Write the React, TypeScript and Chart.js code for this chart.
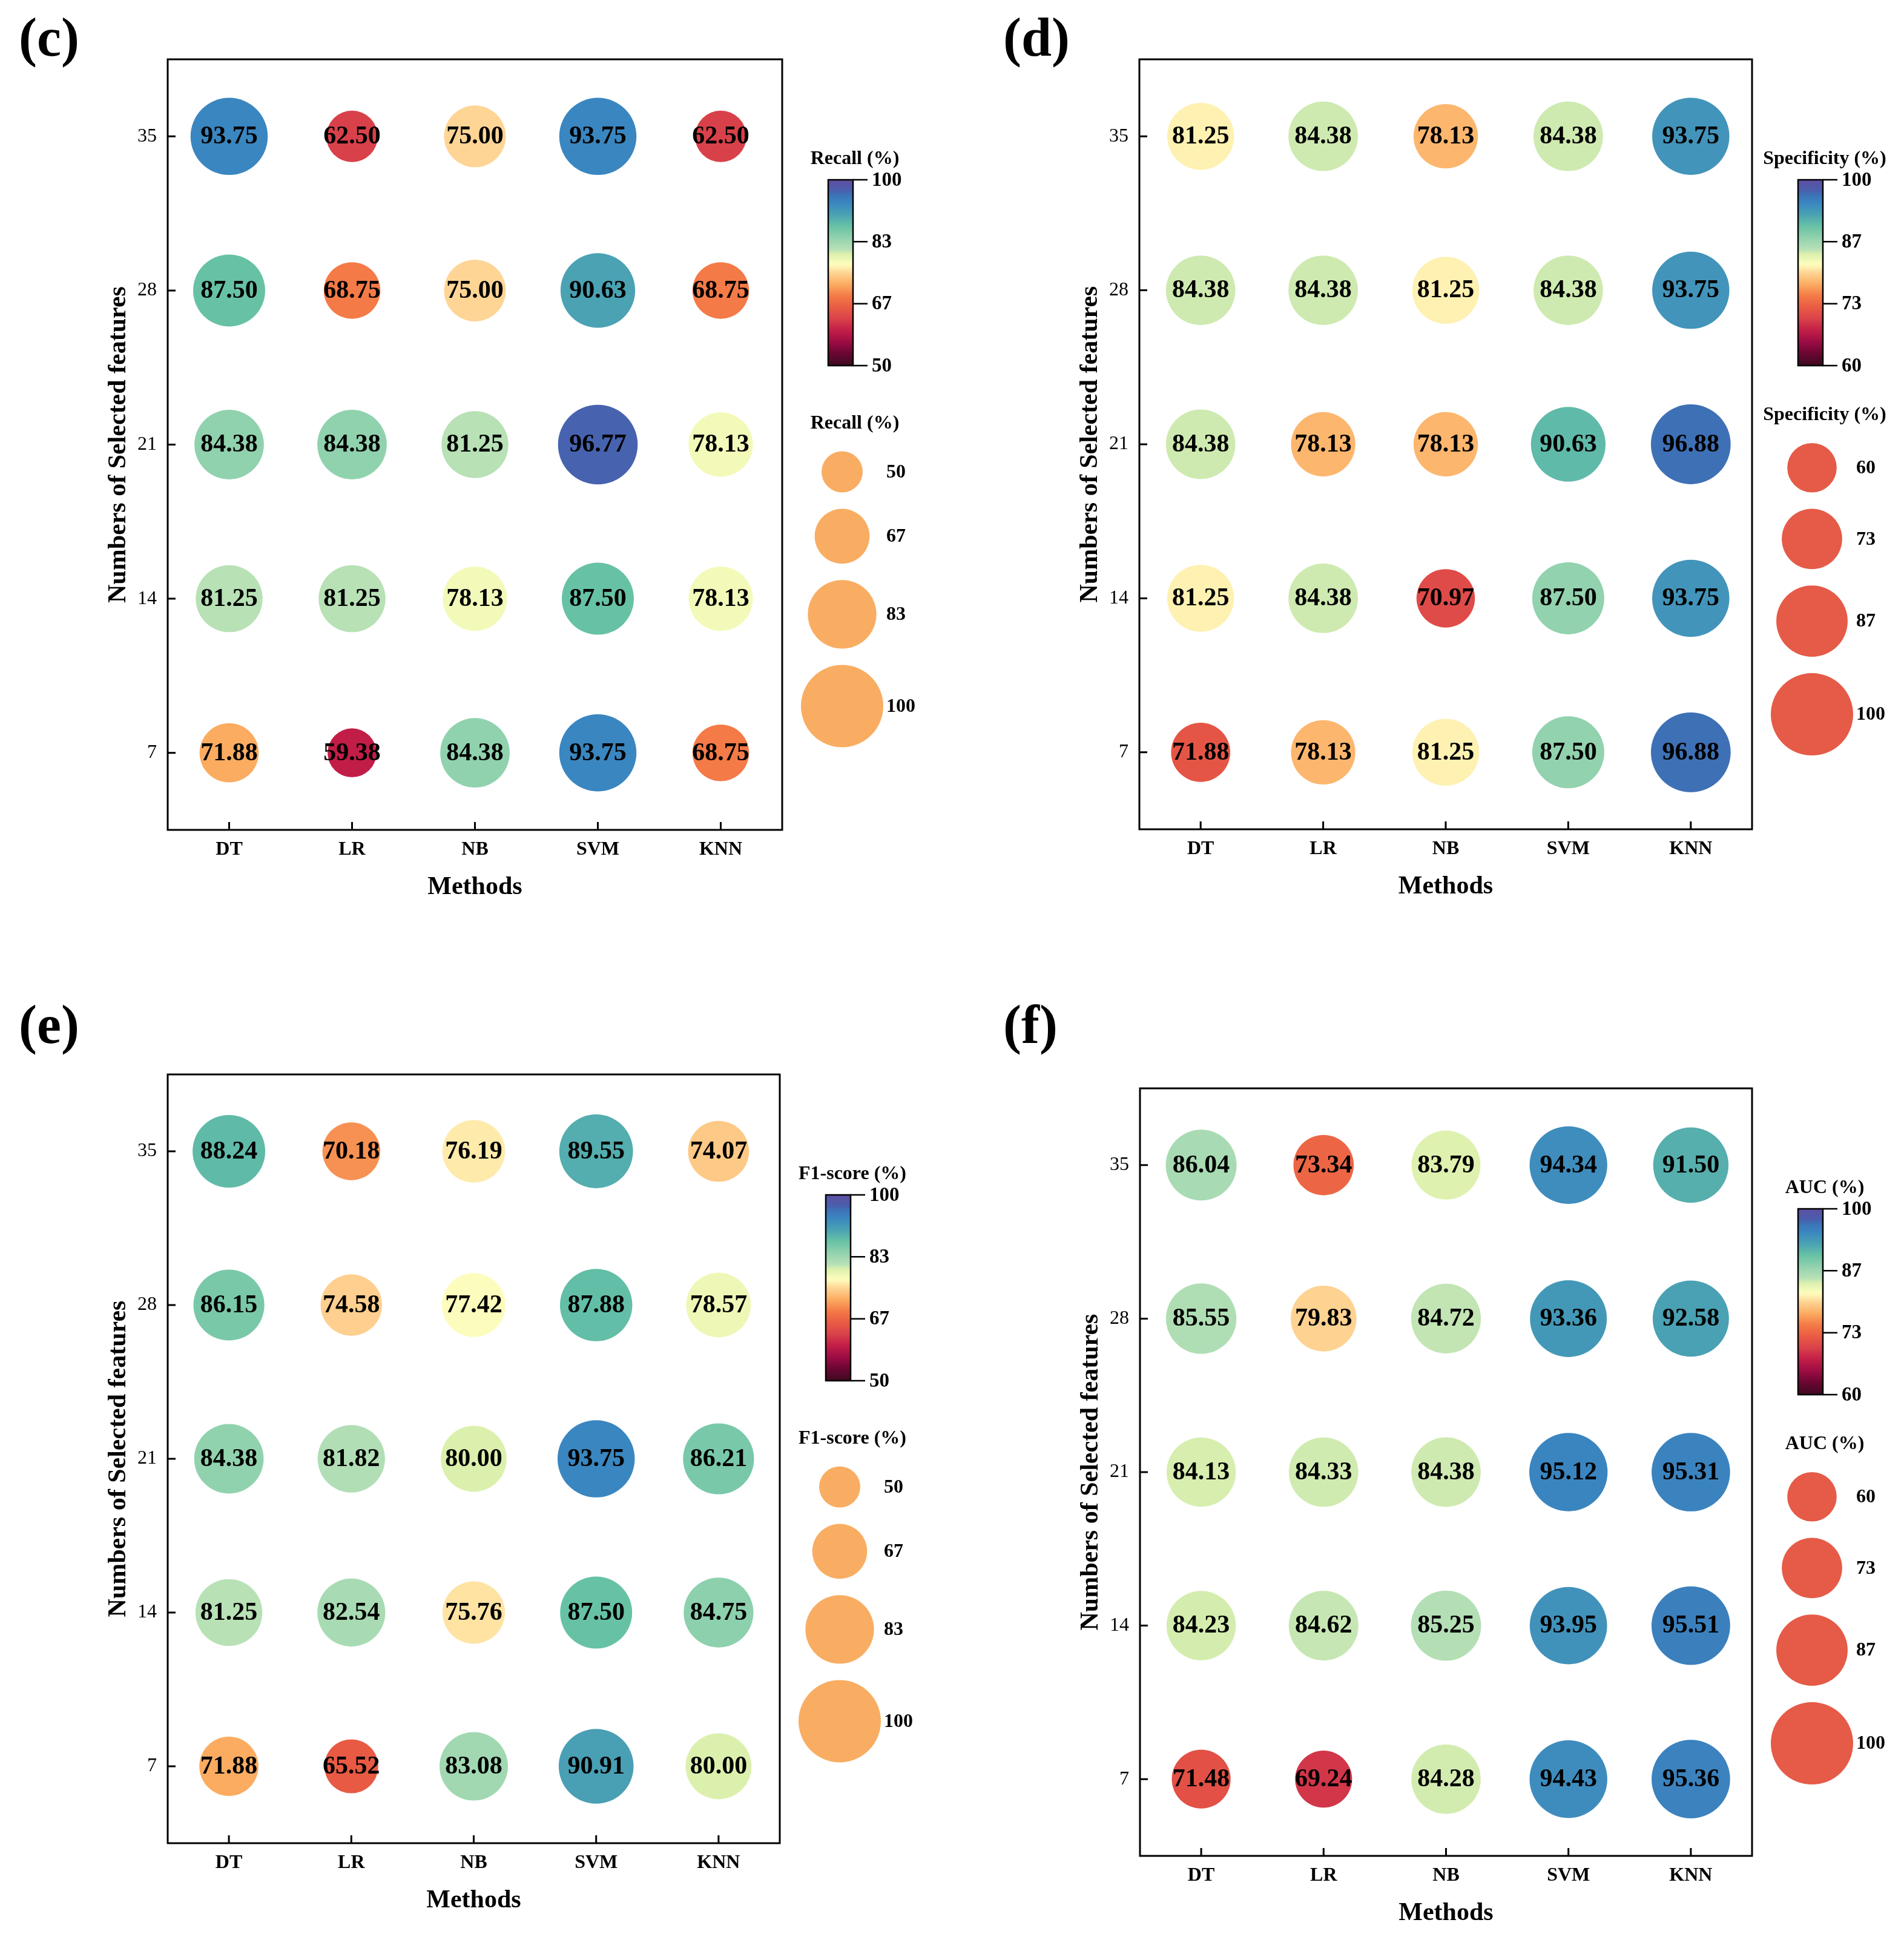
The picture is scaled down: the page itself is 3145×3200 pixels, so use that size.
import React, { useEffect, useRef } from 'react';
import { Chart, registerables } from 'chart.js';

Chart.register(...registerables);

// ---------------- data ----------------
const methods = ['DT', 'LR', 'NB', 'SVM', 'KNN'];
const featureCounts = [7, 14, 21, 28, 35];

// rows follow featureCounts (7 -> 35), columns follow methods
const recall = [
  [71.88, 59.38, 84.38, 93.75, 68.75],
  [81.25, 81.25, 78.13, 87.5, 78.13],
  [84.38, 84.38, 81.25, 96.77, 78.13],
  [87.5, 68.75, 75.0, 90.63, 68.75],
  [93.75, 62.5, 75.0, 93.75, 62.5],
];
const specificity = [
  [71.88, 78.13, 81.25, 87.5, 96.88],
  [81.25, 84.38, 70.97, 87.5, 93.75],
  [84.38, 78.13, 78.13, 90.63, 96.88],
  [84.38, 84.38, 81.25, 84.38, 93.75],
  [81.25, 84.38, 78.13, 84.38, 93.75],
];
const f1score = [
  [71.88, 65.52, 83.08, 90.91, 80.0],
  [81.25, 82.54, 75.76, 87.5, 84.75],
  [84.38, 81.82, 80.0, 93.75, 86.21],
  [86.15, 74.58, 77.42, 87.88, 78.57],
  [88.24, 70.18, 76.19, 89.55, 74.07],
];
const auc = [
  [71.48, 69.24, 84.28, 94.43, 95.36],
  [84.23, 84.62, 85.25, 93.95, 95.51],
  [84.13, 84.33, 84.38, 95.12, 95.31],
  [85.55, 79.83, 84.72, 93.36, 92.58],
  [86.04, 73.34, 83.79, 94.34, 91.5],
];

const recallRange = [50, 100];
const specificityRange = [60, 100];
const f1Range = [50, 100];
const aucRange = [60, 100];

const recallTickLabels = ['50', '67', '83', '100'];
const specificityTickLabels = ['60', '73', '87', '100'];
const f1TickLabels = ['50', '67', '83', '100'];
const aucTickLabels = ['60', '73', '87', '100'];

// ---------------- styling ----------------
const SERIF = "'Liberation Serif', 'Times New Roman', serif";

const CMAP: [number, string][] = [
  [0.0, '#3d0a21'],
  [0.07, '#6e0633'],
  [0.13, '#9e0d44'],
  [0.19, '#c21e47'],
  [0.25, '#d9414a'],
  [0.31, '#e85a44'],
  [0.375, '#f47a47'],
  [0.4375, '#fbac61'],
  [0.5, '#fed595'],
  [0.545, '#fefebe'],
  [0.6, '#dcf0ad'],
  [0.625, '#b8e1b6'],
  [0.69, '#90d1ae'],
  [0.75, '#67c2a5'],
  [0.8125, '#4aa2b3'],
  [0.875, '#3a86c0'],
  [0.92, '#3d72b6'],
  [0.94, '#4a5fad'],
  [1.0, '#5e4fa2'],
];

function hexToRgb(h: string) {
  const n = parseInt(h.slice(1), 16);
  return [(n >> 16) & 255, (n >> 8) & 255, n & 255];
}

function cmap(t: number) {
  const tt = Math.max(0, Math.min(1, t));
  for (let i = 0; i < CMAP.length - 1; i++) {
    const [t0, c0] = CMAP[i];
    const [t1, c1] = CMAP[i + 1];
    if (tt >= t0 && tt <= t1) {
      const f = (tt - t0) / (t1 - t0 || 1);
      const a = hexToRgb(c0);
      const b = hexToRgb(c1);
      const r = Math.round(a[0] + (b[0] - a[0]) * f);
      const g = Math.round(a[1] + (b[1] - a[1]) * f);
      const bb = Math.round(a[2] + (b[2] - a[2]) * f);
      return `rgb(${r},${g},${bb})`;
    }
  }
  return CMAP[CMAP.length - 1][1];
}

const bubbleRadius = (v: number) => 0.68 * v;

type PanelCfg = {
  key: string;
  label: string;
  title: string;
  values: number[][];
  range: number[];
  tickLabels: string[];
  legendColor: string;
  canvas: number[];
  box: number[];
  labelPos: number[];
};

const panels: PanelCfg[] = [
  {
    key: 'c', label: '(c)', title: 'Recall (%)', values: recall, range: recallRange,
    tickLabels: recallTickLabels, legendColor: '#f9ad63',
    canvas: [0, 0, 1600, 1600], box: [277, 98, 1292, 1371], labelPos: [31, 92],
  },
  {
    key: 'd', label: '(d)', title: 'Specificity (%)', values: specificity, range: specificityRange,
    tickLabels: specificityTickLabels, legendColor: '#e55b47',
    canvas: [1600, 0, 1545, 1600], box: [1882, 98, 2894, 1370], labelPos: [1657, 92],
  },
  {
    key: 'e', label: '(e)', title: 'F1-score (%)', values: f1score, range: f1Range,
    tickLabels: f1TickLabels, legendColor: '#f9ad63',
    canvas: [0, 1600, 1600, 1600], box: [277, 1775, 1288, 3045], labelPos: [31, 1723],
  },
  {
    key: 'f', label: '(f)', title: 'AUC (%)', values: auc, range: aucRange,
    tickLabels: aucTickLabels, legendColor: '#e55b47',
    canvas: [1600, 1600, 1545, 1600], box: [1883, 1798, 2894, 3066], labelPos: [1657, 1723],
  },
];

function makeDecor(p: PanelCfg) {
  return {
    id: 'decor_' + p.key,
    afterDraw(chart: any) {
      const ctx: CanvasRenderingContext2D = chart.ctx;
      const ca = chart.chartArea;
      const xs = chart.scales.x;
      const ys = chart.scales.y;
      const [vmin, vmax] = p.range;
      const [cx, cy] = p.canvas;
      ctx.save();

      // bubble value labels
      const meta = chart.getDatasetMeta(0);
      const ds = chart.data.datasets[0].data;
      ctx.font = `bold 42px ${SERIF}`;
      ctx.fillStyle = '#000';
      ctx.textAlign = 'center';
      ctx.textBaseline = 'middle';
      meta.data.forEach((el: any, i: number) => {
        ctx.fillText(ds[i].v.toFixed(2), el.x, el.y + 1);
      });

      // frame
      ctx.strokeStyle = '#000';
      ctx.lineWidth = 3;
      ctx.strokeRect(ca.left, ca.top, ca.right - ca.left, ca.bottom - ca.top);

      // inward ticks
      ctx.lineWidth = 3;
      ctx.beginPath();
      xs.ticks.forEach((t: any) => {
        const px = xs.getPixelForValue(t.value);
        ctx.moveTo(px, ca.bottom);
        ctx.lineTo(px, ca.bottom - 13);
      });
      ys.ticks.forEach((t: any) => {
        const py = ys.getPixelForValue(t.value);
        ctx.moveTo(ca.left, py);
        ctx.lineTo(ca.left + 13, py);
      });
      ctx.stroke();

      // panel label
      ctx.font = `bold 90px ${SERIF}`;
      ctx.textAlign = 'left';
      ctx.textBaseline = 'alphabetic';
      ctx.fillText(p.label, p.labelPos[0] - cx, p.labelPos[1] - cy);

      // colour bar
      const cbL = ca.right + 76;
      const cbR = ca.right + 117;
      const cbT = ca.top + 199;
      const cbB = ca.top + 506;
      const grad = ctx.createLinearGradient(0, cbB, 0, cbT);
      for (let i = 0; i <= 80; i++) grad.addColorStop(i / 80, cmap(i / 80));
      ctx.fillStyle = grad;
      ctx.fillRect(cbL, cbT, cbR - cbL, cbB - cbT);
      ctx.lineWidth = 2.5;
      ctx.strokeStyle = '#000';
      ctx.strokeRect(cbL, cbT, cbR - cbL, cbB - cbT);
      ctx.beginPath();
      ctx.font = `bold 33px ${SERIF}`;
      ctx.fillStyle = '#000';
      ctx.textAlign = 'left';
      ctx.textBaseline = 'middle';
      p.tickLabels.forEach((lab, i) => {
        const yy = cbB - (i / 3) * (cbB - cbT);
        ctx.moveTo(cbR, yy);
        ctx.lineTo(cbR + 24, yy);
        ctx.fillText(lab, cbR + 31, yy + 1);
      });
      ctx.stroke();
      ctx.font = `bold 32px ${SERIF}`;
      ctx.textAlign = 'center';
      ctx.fillText(p.title, ca.right + 120, ca.top + 165);

      // size legend
      const sizeVals = [0, 1, 2, 3].map((i) => vmin + (i * (vmax - vmin)) / 3);
      const radii = sizeVals.map(bubbleRadius);
      const gap = 27;
      const total = radii.reduce((a, r) => a + 2 * r, 0) + gap * 3;
      let yTop = ca.top + 892 - total / 2;
      ctx.fillText(p.title, ca.right + 120, yTop - 46);
      radii.forEach((r, i) => {
        const yc = yTop + r;
        ctx.beginPath();
        ctx.fillStyle = p.legendColor;
        ctx.arc(ca.right + 99, yc, r, 0, Math.PI * 2);
        ctx.fill();
        ctx.fillStyle = '#000';
        ctx.textAlign = 'left';
        ctx.fillText(p.tickLabels[i], ca.right + 172, yc + 1);
        yTop += 2 * r + gap;
      });

      ctx.restore();
    },
  };
}

function PanelChart({ p }: { p: PanelCfg }) {
  const ref = useRef<HTMLCanvasElement | null>(null);
  const [cx, cy, cw, ch] = p.canvas;

  useEffect(() => {
    const [L, T, R, B] = p.box;
    const lx = L - cx;
    const ty = T - cy;
    const rx = R - cx;
    const by = B - cy;
    const yAxisW = 81 + 25.2;
    const xAxisH = 95 + 25.2;
    const [vmin, vmax] = p.range;

    const points: any[] = [];
    const colors: string[] = [];
    featureCounts.forEach((fc, ri) => {
      methods.forEach((_, mi) => {
        const v = p.values[ri][mi];
        points.push({ x: mi, y: fc, r: bubbleRadius(v), v });
        colors.push(cmap((v - vmin) / (vmax - vmin)));
      });
    });

    const chart = new Chart(ref.current as HTMLCanvasElement, {
      type: 'bubble',
      data: {
        datasets: [
          {
            data: points,
            backgroundColor: colors,
            borderWidth: 0,
            borderColor: 'rgba(0,0,0,0)',
            clip: false as any,
          } as any,
        ],
      },
      options: {
        responsive: false,
        maintainAspectRatio: false,
        animation: false,
        events: [],
        layout: {
          padding: { left: lx - yAxisW, top: ty, right: cw - rx, bottom: ch - by - xAxisH },
        },
        plugins: {
          legend: { display: false },
          tooltip: { enabled: false },
          title: { display: false },
        },
        scales: {
          x: {
            type: 'linear',
            position: 'bottom',
            min: -0.5,
            max: 4.5,
            grid: { display: false, drawTicks: false },
            border: { display: false },
            afterBuildTicks: (s: any) => {
              s.ticks = methods.map((_, i) => ({ value: i }));
            },
            afterFit: (s: any) => {
              s.height = xAxisH;
            },
            ticks: {
              autoSkip: false,
              maxRotation: 0,
              minRotation: 0,
              padding: 13.5,
              color: '#000',
              font: { size: 32, weight: 'bold', family: SERIF },
              callback: (v: any) => methods[Math.round(Number(v))] ?? '',
            },
            title: {
              display: true,
              text: 'Methods',
              color: '#000',
              padding: 0,
              font: { size: 42, weight: 'bold', family: SERIF },
            },
          } as any,
          y: {
            type: 'linear',
            position: 'left',
            min: 3.5,
            max: 38.5,
            grid: { display: false, drawTicks: false },
            border: { display: false },
            afterBuildTicks: (s: any) => {
              s.ticks = featureCounts.map((v) => ({ value: v }));
            },
            afterFit: (s: any) => {
              s.width = yAxisW;
            },
            ticks: {
              autoSkip: false,
              padding: 18,
              color: '#000',
              font: { size: 32, weight: 'normal', family: SERIF },
              callback: (v: any) => String(v),
            },
            title: {
              display: true,
              text: 'Numbers of Selected features',
              color: '#000',
              padding: 0,
              font: { size: 42, weight: 'bold', family: SERIF },
            },
          } as any,
        },
      },
      plugins: [makeDecor(p)],
    } as any);

    return () => chart.destroy();
  }, []);

  return (
    <canvas
      ref={ref}
      width={cw}
      height={ch}
      style={{ position: 'absolute', left: cx, top: cy, width: cw, height: ch }}
    />
  );
}

export default function App() {
  return (
    <div
      style={{
        position: 'absolute',
        left: 0,
        top: 0,
        width: 3145,
        height: 3200,
        background: '#ffffff',
        overflow: 'hidden',
      }}
    >
      {panels.map((p) => (
        <PanelChart key={p.key} p={p} />
      ))}
    </div>
  );
}
